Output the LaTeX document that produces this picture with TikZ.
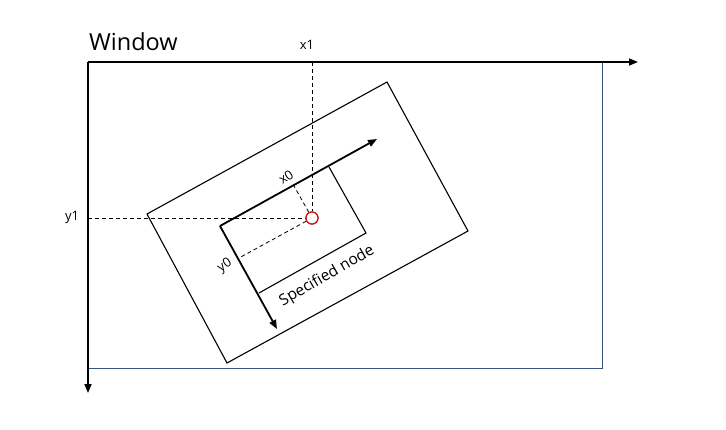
\documentclass[tikz,border=0pt]{standalone}
\usepackage{fontspec}
\setmainfont{Open Sans}
\usetikzlibrary{arrows.meta}
\definecolor{winblue}{RGB}{55,85,125}
\definecolor{ptred}{RGB}{200,20,20}
\tikzset{
  axisline/.style={line width=1.8pt,-{Triangle[length=9pt,width=7pt]}},
  winedge/.style={draw=winblue,line width=1pt},
  rotbox/.style={draw=black,line width=1.1pt,line join=miter},
  framearrow/.style={line width=1.8pt,-{Triangle[length=9pt,width=7pt]}},
  guide/.style={draw=black,line width=0.8pt,dash pattern=on 4pt off 3pt},
  smalllabel/.style={font=\fontsize{13}{15}\selectfont,inner sep=0pt},
  pointmark/.style={circle,draw=ptred,line width=1.2pt,minimum size=12pt,inner sep=0pt,fill=white}
}
\begin{document}
\begin{tikzpicture}[x=1pt,y=-1pt]
\useasboundingbox (0,0) rectangle (726,429);
% window corner and axes
\coordinate (O) at (88,62);
\coordinate (Xend) at (638,62);
\coordinate (Yend) at (88,393);
\coordinate (WTR) at (602,62);
\coordinate (WBR) at (602,368);
\coordinate (WBL) at (88,368);
\draw[winedge] (WTR) -- (WBR) -- (WBL);
\draw[axisline] (O) -- (Xend);
\draw[axisline] (O) -- (Yend);
\node[anchor=base west,inner sep=0pt,font=\fontsize{23.5}{27}\selectfont] (wlabel) at (89,50) {Window};
% outer rotated rectangle
\coordinate (L) at (147,214);
\coordinate (T) at (387,82);
\coordinate (R) at (468,231);
\coordinate (B) at (227,363);
\draw[rotbox] (L) -- (T) -- (R) -- (B) -- cycle;
% specified node
\coordinate (TL) at (220,226);
\coordinate (TR) at (329,167);
\coordinate (BR) at (366,233);
\coordinate (BL) at (259,293);
\draw[rotbox] (TR) -- (BR) -- (BL);
% point and guides
\node[pointmark] (P) at (312,218) {};
\coordinate (Xfoot) at (312,62);
\coordinate (Yfoot) at (88,218);
\coordinate (X0foot) at (294,186);
\coordinate (Y0foot) at (239,258);
\draw[guide] (Xfoot) -- (P.north);
\draw[guide] (Yfoot) -- (P.west);
\draw[guide] (P) -- (X0foot);
\draw[guide] (P) -- (Y0foot);
\node[pointmark] at (P) {};
% frame axes
\coordinate (Fx) at (377,139);
\coordinate (Fy) at (277,329);
\draw[framearrow] (TL) -- (Fx);
\draw[framearrow] (TL) -- (Fy);
% labels
\node[smalllabel] (x1) at (307,45) {x1};
\node[smalllabel] (y1) at (72,217) {y1};
\node[smalllabel,rotate=34] (x0) at (286,177) {x0};
\node[smalllabel,rotate=34] (y0) at (225,266) {y0};
\node[inner sep=0pt,rotate=30,font=\fontsize{15.5}{18}\selectfont] (spec) at (327,276) {Specified node};
\end{tikzpicture}
\end{document}
